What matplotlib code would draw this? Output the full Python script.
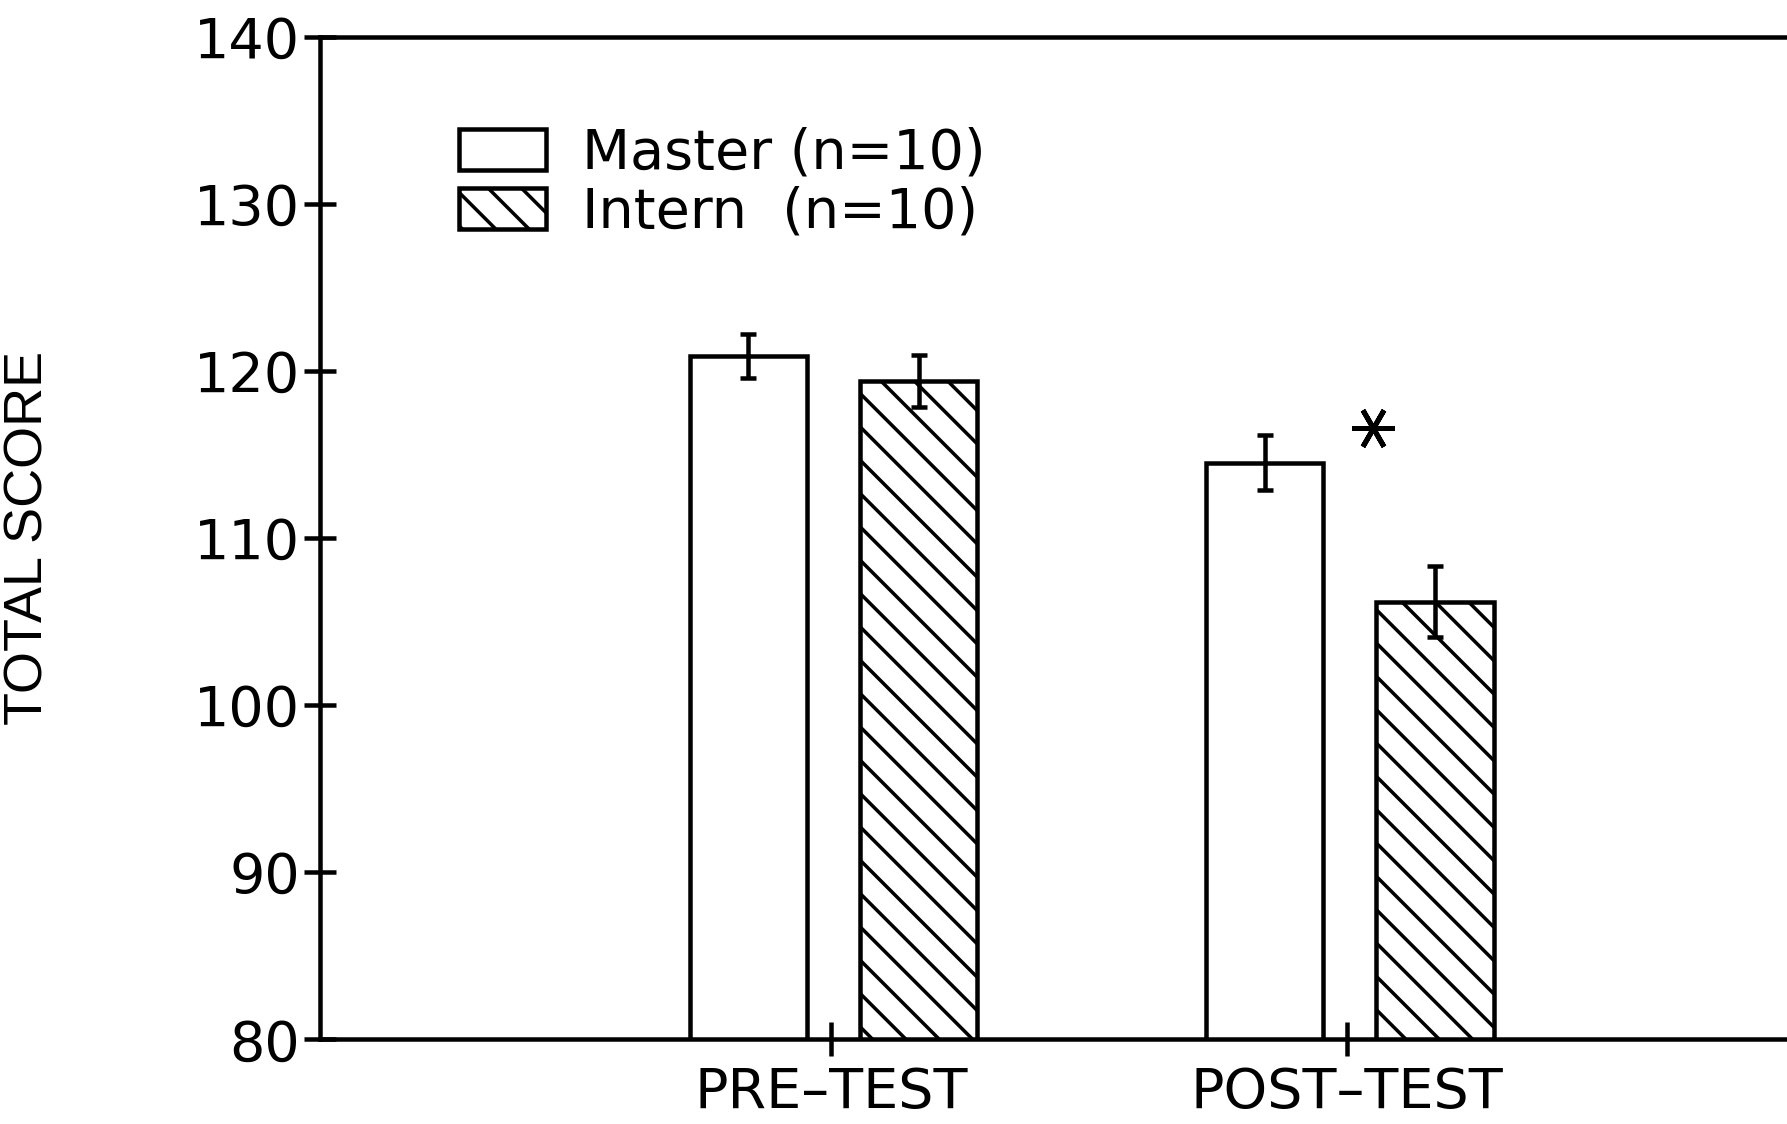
import matplotlib
matplotlib.use("Agg")
import matplotlib.pyplot as plt
import numpy as np

# ---- data ----
groups = ["PRE\u2013TEST", "POST\u2013TEST"]
series = ["Master (n=10)", "Intern  (n=10)"]
master_mean = [120.9, 114.5]
master_err = [1.3, 1.65]
intern_mean = [119.4, 106.2]
intern_err = [1.55, 2.15]
yticks = [80, 90, 100, 110, 120, 130, 140]
star_pos = (1.05, 116.6)

DPI = 200
P = 72.0 / DPI  # points per pixel

plt.rcParams['hatch.linewidth'] = 3.5 * P
plt.rcParams['font.family'] = ['DejaVu Sans']

fig = plt.figure(figsize=(1787 / DPI, 1124 / DPI), dpi=DPI)
ax = fig.add_axes([0.179, 0.0753, 0.83, 0.892])

x = np.arange(len(groups))
w = 0.227
lw = 4.5 * P
ax.bar(x - 0.16, master_mean, width=w, facecolor='white', edgecolor='black',
       linewidth=lw, label=series[0], zorder=2)
ax.bar(x + 0.17, intern_mean, width=w, facecolor='white', edgecolor='black',
       linewidth=lw, hatch='\\\\', label=series[1], zorder=2)
ax.errorbar(x - 0.16, master_mean, yerr=master_err, fmt='none', ecolor='black',
            elinewidth=lw, capsize=8 * P, capthick=lw, zorder=3)
ax.errorbar(x + 0.17, intern_mean, yerr=intern_err, fmt='none', ecolor='black',
            elinewidth=lw, capsize=8 * P, capthick=lw, zorder=3)

ax.plot([star_pos[0]], [star_pos[1]], marker=(6, 2, 90), markersize=42 * P,
        markeredgewidth=5 * P, color='black', linestyle='none', zorder=3)

ax.set_ylim(80, 140)
ax.set_xlim(-0.99, 1.883)
ax.set_yticks(yticks)
ax.set_xticks(x)
ax.set_xticklabels(groups)

for s in ['left', 'bottom', 'top']:
    ax.spines[s].set_linewidth(lw)
ax.spines['right'].set_visible(False)

ax.tick_params(axis='y', direction='inout', length=32 * P, width=lw,
               labelsize=55.6 * P, pad=4 * P)
ax.tick_params(axis='x', direction='inout', length=34 * P, width=lw,
               labelsize=55.6 * P, pad=10 * P)

fig.text(29 / 1787, 1 - 538 / 1124, "TOTAL SCORE", rotation=90, ha='center',
         va='center', fontsize=54 * P, family=['Liberation Sans', 'DejaVu Sans'])

ax.legend(loc='upper left', bbox_to_anchor=(0.094, 0.91), frameon=False,
          fontsize=55.6 * P, handlelength=1.56, handleheight=0.76,
          handletextpad=0.65, labelspacing=0.09, borderpad=0, borderaxespad=0)

fig.savefig("out.png", dpi=DPI, facecolor='white')
